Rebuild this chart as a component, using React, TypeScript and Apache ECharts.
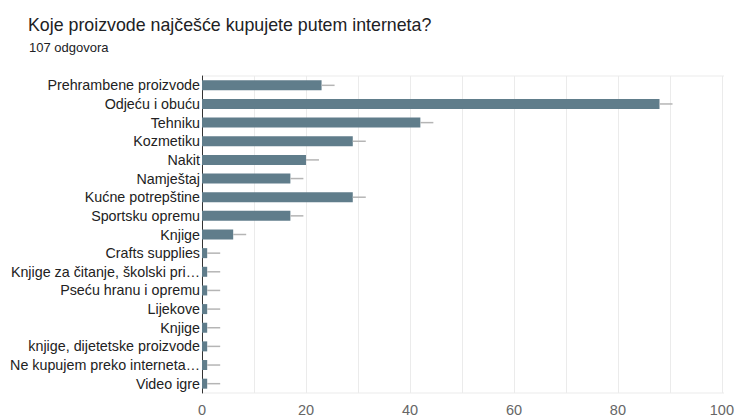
import React, { useEffect, useRef } from "react";
import * as echarts from "echarts";

const TITLE = "Koje proizvode najčešće kupujete putem interneta?";
const SUBTITLE = "107 odgovora";

const categories = [
  "Prehrambene proizvode",
  "Odjeću i obuću",
  "Tehniku",
  "Kozmetiku",
  "Nakit",
  "Namještaj",
  "Kućne potrepštine",
  "Sportsku opremu",
  "Knjige",
  "Crafts supplies",
  "Knjige za čitanje, školski pri…",
  "Pseću hranu i opremu",
  "Lijekove",
  "Knjige",
  "knjige, dijetetske proizvode",
  "Ne kupujem preko interneta…",
  "Video igre",
];

const values = [23, 88, 42, 29, 20, 17, 29, 17, 6, 1, 1, 1, 1, 1, 1, 1, 1];

const xTicks = { min: 0, max: 100, interval: 10 };

export default function App() {
  const ref = useRef<HTMLDivElement>(null);

  useEffect(() => {
    if (!ref.current) return;
    const chart = echarts.init(ref.current, null, { renderer: "svg" });
    const WHISKER = 13;
    chart.setOption({
      animation: false,
      backgroundColor: "#ffffff",
      title: [
        {
          text: TITLE,
          left: 23,
          top: 11,
          textStyle: {
            fontFamily: "Liberation Sans",
            fontSize: 17.8,
            fontWeight: "normal",
            color: "#202124",
          },
        },
        {
          text: SUBTITLE,
          left: 24,
          top: 36,
          textStyle: {
            fontFamily: "Liberation Sans",
            fontSize: 13,
            fontWeight: "normal",
            color: "#202124",
          },
        },
      ],
      grid: { left: 202, right: 13, top: 76, bottom: 24, containLabel: false },
      xAxis: {
        type: "value",
        min: xTicks.min,
        max: xTicks.max,
        interval: xTicks.interval,
        axisLine: { show: false },
        axisTick: { show: false },
        splitLine: { show: true, lineStyle: { color: "#ebebeb", width: 1 } },
        axisLabel: {
          color: "#666666",
          fontFamily: "Liberation Sans",
          fontSize: 14.5,
          margin: 9,
          formatter: (v: number) => (v % 20 === 0 ? String(v) : ""),
        },
      },
      yAxis: {
        type: "category",
        data: categories,
        inverse: true,
        axisLine: { show: true, lineStyle: { color: "#333333", width: 1 } },
        axisTick: { show: false },
        splitLine: { show: false },
        axisLabel: {
          color: "#222222",
          fontFamily: "Liberation Sans",
          fontSize: 14.3,
          margin: 2,
          interval: 0,
        },
      },
      graphic: [
        {
          type: "line",
          shape: { x1: 202, y1: 76, x2: 724, y2: 76 },
          style: { stroke: "#ebebeb", lineWidth: 1 },
          silent: true,
        },
        {
          type: "line",
          shape: { x1: 202, y1: 393, x2: 724, y2: 393 },
          style: { stroke: "#ebebeb", lineWidth: 1 },
          silent: true,
        },
      ],
      series: [
        {
          type: "bar",
          data: values,
          barWidth: 10,
          itemStyle: { color: "#607d8b" },
          z: 3,
        },
        {
          type: "custom",
          z: 4,
          data: values.map((v, i) => [v, i]),
          encode: { x: 0, y: 1 },
          renderItem: (_params: any, api: any) => {
            const p = api.coord([api.value(0), api.value(1)]);
            return {
              type: "line",
              shape: { x1: p[0], y1: p[1], x2: p[0] + WHISKER, y2: p[1] },
              style: { stroke: "#b5b5b5", lineWidth: 1.5 },
            };
          },
        },
      ],
    });
    return () => chart.dispose();
  }, []);

  return (
    <div
      ref={ref}
      style={{ position: "fixed", left: 0, top: 0, width: 737, height: 417 }}
    />
  );
}
